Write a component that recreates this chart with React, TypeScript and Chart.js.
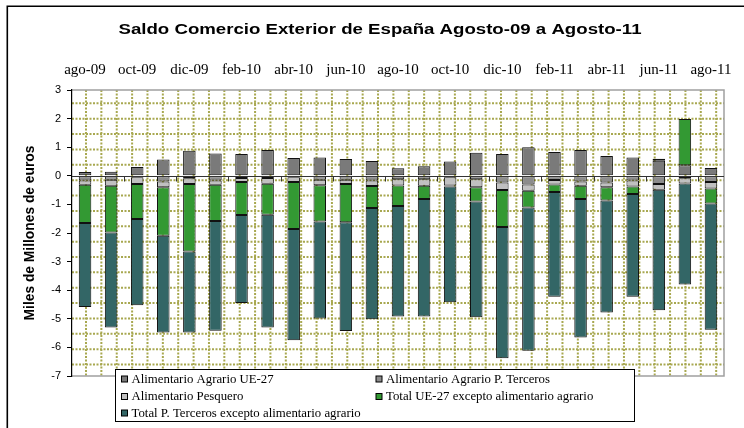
import React, { useEffect, useRef } from "react";
import { Chart, registerables } from "chart.js";

Chart.register(...registerables);

const months = [
  "ago-09", "sep-09", "oct-09", "nov-09", "dic-09", "ene-10", "feb-10", "mar-10", "abr-10",
  "may-10", "jun-10", "jul-10", "ago-10", "sep-10", "oct-10", "nov-10", "dic-10", "ene-11",
  "feb-11", "mar-11", "abr-11", "may-11", "jun-11", "jul-11", "ago-11",
];

const agrarioUE27 = [0.13, 0.14, 0.31, 0.57, 0.88, 0.78, 0.76, 0.9, 0.62, 0.64, 0.59, 0.52, 0.26, 0.33, 0.5, 0.81, 0.76, 1.0, 0.83, 0.9, 0.69, 0.64, 0.53, 0.37, 0.27];
const agrarioTerceros = [-0.16, -0.14, -0.05, -0.2, -0.09, -0.16, -0.08, -0.08, -0.05, -0.14, -0.14, -0.16, -0.12, -0.12, -0.05, -0.12, -0.23, -0.3, -0.15, -0.2, -0.23, -0.16, -0.29, -0.09, -0.22];
const pesquero = [-0.15, -0.21, -0.24, -0.2, -0.2, -0.15, -0.14, -0.2, -0.17, -0.19, -0.15, -0.2, -0.22, -0.23, -0.29, -0.28, -0.27, -0.22, -0.15, -0.15, -0.17, -0.21, -0.2, -0.18, -0.22];
const totalUE27 = [-1.34, -1.63, -1.22, -1.7, -2.36, -1.27, -1.15, -1.08, -1.64, -1.27, -1.33, -0.77, -0.72, -0.46, -0.03, -0.5, -1.29, -0.59, -0.27, -0.46, -0.46, -0.27, 0.07, 1.62, -0.53];
const totalTerceros = [-2.94, -3.32, -3.02, -3.38, -2.83, -3.84, -3.08, -3.94, -3.89, -3.39, -3.81, -3.89, -3.86, -4.11, -4.05, -4.05, -4.59, -5.01, -3.66, -4.84, -3.92, -3.59, -4.21, -3.53, -4.41];

const seriesLabels = [
  "Alimentario Agrario UE-27",
  "Alimentario Agrario P. Terceros",
  "Alimentario Pesquero",
  "Total UE-27 excepto alimentario agrario",
  "Total P. Terceros excepto alimentario agrario",
];
const seriesColors = ["#7a7a7a", "#8c8c8c", "#c0c0c0", "#339933", "#336666"];

const titleText = "Saldo Comercio Exterior de España Agosto-09 a Agosto-11";
const yTitle = "Miles de Millones de euros";
const yMin = -7;
const yMax = 3;

const SANS = "'Liberation Sans', Arial, sans-serif";
const SERIF = "'Liberation Serif', 'Times New Roman', serif";

const decorPlugin = {
  id: "decor",
  beforeDraw(chart: any) {
    const { ctx, chartArea: a } = chart;
    ctx.save();
    ctx.fillStyle = "#ffffff";
    ctx.fillRect(0, 0, chart.width, chart.height);
    // outer frame
    ctx.strokeStyle = "#000";
    ctx.lineWidth = 1.6;
    ctx.beginPath();
    ctx.moveTo(7.3, chart.height);
    ctx.lineTo(7.3, 6.3);
    ctx.lineTo(chart.width, 6.3);
    ctx.stroke();
    // dotted pattern fill of plot area
    ctx.beginPath();
    ctx.rect(a.left, a.top, a.right - a.left, a.bottom - a.top);
    ctx.clip();
    ctx.strokeStyle = "#a8a850";
    ctx.lineWidth = 2;
    ctx.setLineDash([2, 1.5]);
    const step = 15.37;
    for (let x = a.left + 14; x < a.right; x += step) {
      ctx.beginPath();
      ctx.moveTo(x, a.top);
      ctx.lineTo(x, a.bottom);
      ctx.stroke();
    }
    for (let y = a.top + 13.3; y < a.bottom; y += step) {
      ctx.beginPath();
      ctx.moveTo(a.left, y);
      ctx.lineTo(a.right, y);
      ctx.stroke();
    }
    ctx.restore();
    // plot border (top, right, bottom)
    ctx.save();
    ctx.strokeStyle = "#a0a0a0";
    ctx.lineWidth = 1.5;
    ctx.beginPath();
    ctx.moveTo(a.left, a.top);
    ctx.lineTo(a.right, a.top);
    ctx.lineTo(a.right, a.bottom);
    ctx.lineTo(a.left, a.bottom);
    ctx.stroke();
    ctx.restore();
  },
  afterDatasetsDraw(chart: any) {
    const { ctx } = chart;
    const xs = chart.scales.x;
    const ys = chart.scales.y;
    const y0 = Math.round(ys.getPixelForValue(0)) + 0.5;
    ctx.save();
    ctx.strokeStyle = "#333";
    ctx.lineWidth = 1;
    ctx.beginPath();
    ctx.moveTo(chart.chartArea.left, y0);
    ctx.lineTo(chart.chartArea.right, y0);
    for (let i = 2; i < months.length; i += 2) {
      const x = Math.round(xs.getPixelForValue(i - 0.5)) + 0.5;
      ctx.moveTo(x, y0);
      ctx.lineTo(x, y0 + 5);
    }
    ctx.stroke();
    ctx.restore();
  },
  afterDraw(chart: any) {
    const { ctx, chartArea: a } = chart;
    ctx.save();
    // title, stretched horizontally like the reference
    ctx.fillStyle = "#000";
    ctx.font = "bold 14.5px " + SANS;
    ctx.textAlign = "center";
    ctx.textBaseline = "middle";
    const tw = ctx.measureText(titleText).width;
    const sx = 523 / tw;
    ctx.translate(380, 29.5);
    ctx.scale(sx, 1);
    ctx.fillText(titleText, 0, 0);
    ctx.restore();
    ctx.save();
    // legend box
    const bx = a.left + 43.5;
    const by = a.bottom - 6.5;
    const bw = 519;
    const bh = 52;
    ctx.fillStyle = "#fff";
    ctx.fillRect(bx, by, bw, bh);
    ctx.strokeStyle = "#000";
    ctx.lineWidth = 1;
    ctx.strokeRect(bx, by, bw, bh);
    ctx.font = "12.8px " + SERIF;
    ctx.textAlign = "left";
    ctx.textBaseline = "middle";
    const cols = [bx + 6, bx + 260.5];
    const rows = [by + 9.5, by + 27, by + 43.5];
    seriesLabels.forEach((lab, i) => {
      const cx = cols[i % 2];
      const cy = rows[Math.floor(i / 2)];
      ctx.fillStyle = seriesColors[i];
      ctx.fillRect(cx, cy - 3, 6, 6);
      ctx.strokeStyle = "#000";
      ctx.strokeRect(cx, cy - 3, 6, 6);
      ctx.fillStyle = "#000";
      ctx.fillText(lab, cx + 10, cy + 0.5);
    });
    ctx.restore();
  },
};

export default function App() {
  const canvasRef = useRef<HTMLCanvasElement | null>(null);

  useEffect(() => {
    const canvas = canvasRef.current;
    if (!canvas) return;
    const data = [agrarioUE27, agrarioTerceros, pesquero, totalUE27, totalTerceros];
    const chart = new Chart(canvas, {
      type: "bar",
      data: {
        labels: months,
        datasets: data.map((d, i) => ({
          label: seriesLabels[i],
          data: d,
          backgroundColor: seriesColors[i],
          borderColor: "#111",
          borderWidth: 1,
          borderSkipped: false,
          categoryPercentage: 1,
          barPercentage: 0.48,
        })),
      },
      options: {
        responsive: false,
        animation: false,
        layout: { padding: { top: 58, left: 8, right: 20, bottom: 52 } },
        plugins: {
          legend: { display: false },
          title: { display: false },
          tooltip: { enabled: false },
        },
        scales: {
          x: {
            position: "top",
            stacked: true,
            grid: { display: false, drawTicks: false },
            border: { display: false },
            ticks: {
              autoSkip: false,
              maxRotation: 0,
              padding: 11,
              color: "#000",
              font: { family: SERIF, size: 15 },
              callback: (_v: any, i: number) => (i % 2 === 0 ? months[i] : ""),
            },
            afterFit: (s: any) => {
              s.height = 32;
            },
          },
          y: {
            stacked: true,
            min: yMin,
            max: yMax,
            ticks: {
              stepSize: 1,
              color: "#000",
              padding: 6,
              font: { family: SANS, size: 11 },
            },
            grid: {
              color: "transparent",
              tickColor: "#000",
              tickLength: 5,
              drawOnChartArea: false,
            },
            border: { display: true, color: "#000", width: 1.2 },
            title: {
              display: true,
              text: yTitle,
              color: "#000",
              font: { family: SANS, size: 13.8, weight: "bold" },
              padding: { top: 14, bottom: 0 },
            },
            afterFit: (s: any) => {
              s.width = 64;
            },
          },
        },
      },
      plugins: [decorPlugin],
    });
    return () => chart.destroy();
  }, []);

  return (
    <div style={{ position: "absolute", left: 0, top: 0, width: 744, height: 428 }}>
      <canvas ref={canvasRef} width={744} height={428} />
    </div>
  );
}
